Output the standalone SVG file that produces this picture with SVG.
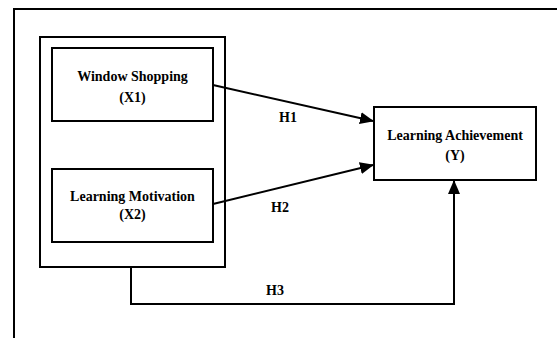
<svg xmlns="http://www.w3.org/2000/svg" width="557" height="338" viewBox="0 0 557 338">
<style>
.box{fill:#fff;stroke:#000;stroke-width:2}
.t{font-family:"Liberation Serif","Times New Roman",serif;font-weight:bold;font-size:14px;fill:#000;text-anchor:middle}
.l{font-family:"Liberation Serif","Times New Roman",serif;font-weight:bold;font-size:14px;fill:#000}
.c{fill:none;stroke:#000;stroke-width:2}
</style>
<defs>
<marker id="ah" markerWidth="14" markerHeight="12" refX="13" refY="6" orient="auto" markerUnits="userSpaceOnUse">
<path d="M0,0 L14,6 L0,12 Z" fill="#000"/>
</marker>
</defs>
<rect width="557" height="338" fill="#fff"/>
<g id="frame"><path d="M14,338 V9 H557" fill="none" stroke="#000" stroke-width="2"/></g>
<g id="group"><rect class="box" x="40" y="37" width="185" height="230"/></g>
<g id="x1"><rect class="box" x="52" y="48" width="161" height="73"/>
<text class="t" x="132.5" y="81">Window Shopping</text>
<text class="t" x="132.5" y="102">(X1)</text></g>
<g id="x2"><rect class="box" x="52" y="169" width="161" height="73"/>
<text class="t" x="132.5" y="201">Learning Motivation</text>
<text class="t" x="132.5" y="219">(X2)</text></g>
<g id="y"><rect class="box" x="374" y="107" width="162" height="73"/>
<text class="t" x="455" y="140">Learning Achievement</text>
<text class="t" x="455" y="160">(Y)</text></g>
<g id="connectors">
<path class="c" d="M213,85 L373,121" marker-end="url(#ah)"/>
<path class="c" d="M213,204 L373,165" marker-end="url(#ah)"/>
<path class="c" d="M131,267 V304 H454 V181" marker-end="url(#ah)"/>
<text class="l" x="279" y="122">H1</text>
<text class="l" x="271" y="212">H2</text>
<text class="l" x="266" y="295">H3</text>
</g>
</svg>
